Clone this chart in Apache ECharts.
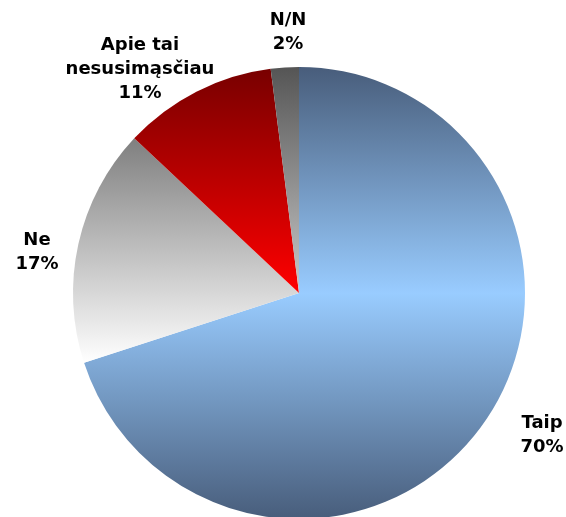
<!DOCTYPE html>
<html><head><meta charset="utf-8">
<script src="https://cdn.jsdelivr.net/npm/echarts@6/dist/echarts.min.js"></script>
<style>html,body{margin:0;padding:0;background:#fff}#c{width:566px;height:517px}</style>
</head><body><div id="c"></div>
<script>
const categories = ["Taip", "Ne", "Apie tai\nnesusimąsčiau", "N/N"];
const values = [70, 17, 11, 2];
const labelPos = [[542, 435], [37, 252], [140, 69], [288, 32]];

function lg(stops) {
  return new echarts.graphic.LinearGradient(0, 0, 0, 1, stops.map((c, i) => ({offset: c[0], color: c[1]})));
}
const fills = [
  lg([[0, '#485d7b'], [0.5, '#99ccff'], [1, '#485d7b']]),
  lg([[0, '#7f7f7f'], [1, '#ffffff']]),
  lg([[0, '#780000'], [1, '#ff0000']]),
  lg([[0, '#555555'], [1, '#c8c8c8']])
];

const chart = echarts.init(document.getElementById('c'), null, {renderer: 'canvas'});
chart.setOption({
  animation: false,
  series: [{
    type: 'pie',
    center: [299, 293],
    radius: [0, 226],
    startAngle: 90,
    clockwise: true,
    avoidLabelOverlap: false,
    data: categories.map((n, i) => ({name: n, value: values[i], itemStyle: {color: fills[i]}})),
    itemStyle: {borderWidth: 0},
    emphasis: {disabled: true},
    labelLine: {show: false},
    label: {
      show: true,
      position: 'outside',
      formatter: p => p.name + '\n' + p.value + '%',
      fontFamily: 'DejaVu Sans',
      fontWeight: 'bold',
      fontSize: 18,
      lineHeight: 24,
      color: '#000',
      align: 'center'
    },
    labelLayout: p => ({x: labelPos[p.dataIndex][0], y: labelPos[p.dataIndex][1], align: 'center', verticalAlign: 'middle'})
  }]
});
</script></body></html>
